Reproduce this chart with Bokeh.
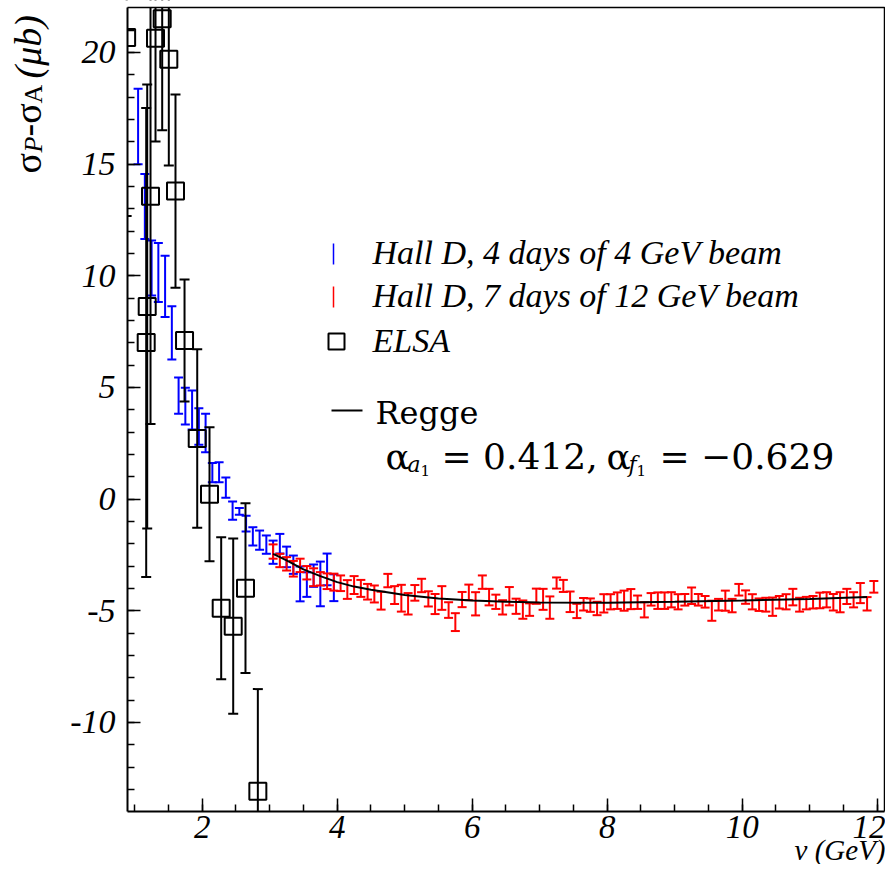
import math
from bokeh.plotting import figure
from bokeh.models import Range1d, FixedTicker, Label, PrintfTickFormatter
from bokeh.embed import file_html
from bokeh.resources import INLINE

# ---------------- data ----------------
blue_x = [1.05, 1.15, 1.25, 1.35, 1.45, 1.55, 1.65, 1.75, 1.85, 1.95,
          2.05, 2.15, 2.25, 2.35, 2.45, 2.55, 2.65, 2.75, 2.85, 2.95,
          3.05, 3.15, 3.25, 3.35, 3.45, 3.55, 3.65, 3.75, 3.85, 3.95]
blue_y = [16.68, 13.10, 10.35, 10.14, 9.52, 7.44, 4.63, 4.16, 3.99, 3.25,
          2.96, 1.18, 1.20, 0.51, -0.52, -0.55, -1.10, -1.67, -1.84, -2.04,
          -2.38, -2.00, -2.59, -2.94, -3.80, -3.83, -3.43, -3.80, -3.15, -3.97]
blue_err = [1.69, 1.46, 1.23, 1.32, 1.37, 1.19, 0.81, 0.82, 0.87, 0.82,
            0.86, 0.43, 0.45, 0.45, 0.41, 0.15, 0.35, 0.41, 0.43, 0.41,
            0.52, 0.44, 0.46, 0.41, 0.78, 0.55, 0.50, 1.00, 0.71, 0.60]

red_x = [3.05, 3.15, 3.25, 3.35, 3.45, 3.55, 3.65, 3.75, 3.85, 3.95,
         4.05, 4.15, 4.25, 4.35, 4.45, 4.55, 4.65, 4.75, 4.85, 4.95,
         5.05, 5.15, 5.25, 5.35, 5.45, 5.55, 5.65, 5.75, 5.85, 5.95,
         6.05, 6.15, 6.25, 6.35, 6.45, 6.55, 6.65, 6.75, 6.85, 6.95,
         7.05, 7.15, 7.25, 7.35, 7.45, 7.55, 7.65, 7.75, 7.85, 7.95,
         8.05, 8.15, 8.25, 8.35, 8.45, 8.55, 8.65, 8.75, 8.85, 8.95,
         9.05, 9.15, 9.25, 9.35, 9.45, 9.55, 9.65, 9.75, 9.85, 9.95,
         10.05, 10.15, 10.25, 10.35, 10.45, 10.55, 10.65, 10.75, 10.85, 10.95,
         11.05, 11.15, 11.25, 11.35, 11.45, 11.55, 11.65, 11.75, 11.85, 11.95]
red_y = [-2.35, -2.75, -2.90, -3.12, -2.97, -3.30, -3.50, -3.57, -3.68, -3.72,
         -3.77, -4.05, -3.85, -4.00, -4.15, -4.25, -4.55, -3.65, -4.30, -4.44,
         -4.69, -4.20, -3.87, -4.47, -4.70, -4.43, -4.97, -5.51, -4.50, -4.18,
         -4.69, -3.72, -4.39, -4.60, -4.85, -4.35, -4.80, -4.95, -4.95, -4.35,
         -4.49, -4.86, -3.76, -3.89, -4.60, -5.01, -4.71, -4.75, -4.90, -4.67,
         -4.60, -4.55, -4.55, -4.48, -4.62, -4.96, -4.49, -4.55, -4.55, -4.51,
         -4.60, -4.51, -4.33, -4.51, -4.60, -5.00, -4.73, -4.55, -4.77, -4.06,
         -4.39, -4.60, -4.73, -4.73, -4.82, -4.62, -4.60, -4.39, -4.73, -4.66,
         -4.62, -4.54, -4.51, -4.62, -4.62, -4.36, -4.51, -4.21, -4.69, -3.93]
red_err = [0.32, 0.30, 0.30, 0.35, 0.30, 0.30, 0.40, 0.30, 0.35, 0.38,
           0.35, 0.42, 0.40, 0.38, 0.35, 0.38, 0.40, 0.30, 0.40, 0.60,
           0.48, 0.35, 0.30, 0.34, 0.45, 0.53, 0.35, 0.40, 0.34, 0.35,
           0.52, 0.30, 0.37, 0.32, 0.32, 0.41, 0.34, 0.41, 0.28, 0.34,
           0.47, 0.50, 0.25, 0.27, 0.46, 0.32, 0.28, 0.30, 0.30, 0.41,
           0.34, 0.37, 0.45, 0.45, 0.30, 0.34, 0.28, 0.37, 0.37, 0.34,
           0.34, 0.26, 0.37, 0.26, 0.26, 0.45, 0.26, 0.45, 0.30, 0.26,
           0.30, 0.34, 0.28, 0.31, 0.41, 0.28, 0.34, 0.37, 0.31, 0.28,
           0.28, 0.35, 0.34, 0.37, 0.45, 0.34, 0.34, 0.45, 0.30, 0.26]

elsa_x = [0.88, 1.170, 1.185, 1.234, 1.308, 1.407, 1.505, 1.604, 1.738,
          1.926, 2.108, 2.281, 2.459, 2.641, 2.824]
elsa_y = [20.67, 7.01, 8.62, 13.56, 20.63, 21.51, 19.69, 13.79, 7.10,
          2.71, 0.21, -4.89, -5.69, -3.99, -13.08]
elsa_err = [8.0, 10.5, 9.94, 10.2, 4.62, 5.0, 4.76, 4.33, 2.73,
            4.0, 3.0, 3.18, 3.92, 3.8, 4.57]

regge_x = [3.05, 3.25, 3.5, 3.75, 4.0, 4.25, 4.5, 5.0, 5.5, 6.0, 6.5, 7.0,
           8.0, 9.0, 10.0, 11.0, 11.85]
regge_y = [-2.45, -2.75, -3.15, -3.45, -3.72, -3.92, -4.06, -4.30, -4.45,
           -4.54, -4.60, -4.63, -4.64, -4.60, -4.54, -4.47, -4.38]

x_ticks = [2, 4, 6, 8, 10, 12]
y_ticks = [-10, -5, 0, 5, 10, 15, 20]
x_minor = [1.0 + 0.5 * i for i in range(23)]
y_minor = list(range(-13, 22))

# ---------------- layout ----------------
W, H = 885, 864
XMIN, XMAX = 0.893, 12.108      # axis ranges of the drawn frame
YMIN, YMAX = -13.99, 22.01
FL, FR, FT, FB = 127, 884, 7, 811   # frame edges in canvas pixels
KX = (XMAX - XMIN) / (FR - FL)
KY = (YMAX - YMIN) / (FB - FT)
TSHIFT = 10   # Label text sits this many px below its anchor; compensate


def px2x(sx):
    return XMIN + (sx - FL) * KX


def py2y(sy):
    return YMAX - (sy - FT) * KY


p = figure(width=W, height=H, output_backend="svg", toolbar_location=None,
           x_range=Range1d(px2x(0), px2x(W)), y_range=Range1d(py2y(H), py2y(0)),
           min_border=0)
p.grid.visible = False
p.outline_line_color = None
p.background_fill_color = "white"
p.border_fill_color = "white"

p.xaxis.fixed_location = YMIN
p.yaxis.fixed_location = XMIN
p.xaxis.bounds = (XMIN, XMAX)
p.yaxis.bounds = (YMIN, YMAX)
p.xaxis.ticker = FixedTicker(ticks=x_ticks, minor_ticks=x_minor)
p.yaxis.ticker = FixedTicker(ticks=y_ticks, minor_ticks=y_minor)
p.yaxis.formatter = PrintfTickFormatter(format="%d")
p.xaxis.formatter = PrintfTickFormatter(format="%d")
for ax in (p.xaxis, p.yaxis):
    ax.axis_line_width = 2
    ax.major_tick_in = 13
    ax.major_tick_out = 0
    ax.minor_tick_in = 7
    ax.minor_tick_out = 0
    ax.major_tick_line_width = 1.5
    ax.minor_tick_line_width = 1.5
    ax.major_label_text_font = "Liberation Serif"
    ax.major_label_text_font_style = "italic"
    ax.major_label_text_font_size = "34px"
    ax.major_label_text_color = "black"
p.xaxis.major_label_text_font_size = "33px"
p.xaxis.major_label_standoff = 4
p.yaxis.major_label_standoff = 12


def errbars(x, y, e, color, cap=9):
    lo = [a - b for a, b in zip(y, e)]
    hi = [a + b for a, b in zip(y, e)]
    p.segment(x0=x, y0=lo, x1=x, y1=hi, line_color=color, line_width=2)
    p.scatter(x=list(x) + list(x), y=lo + hi, marker="dash", size=cap,
              line_color=color, line_width=2)


errbars(blue_x, blue_y, blue_err, "#0000ff")
errbars(elsa_x, elsa_y, elsa_err, "black", cap=10)
p.scatter(elsa_x, elsa_y, marker="square", size=17, fill_color=None,
          line_color="black", line_width=2)
errbars(red_x, red_y, red_err, "#ff0000")
p.line(regge_x, regge_y, line_color="black", line_width=2)

# white masks outside the frame (axes and texts are drawn above them)
p.quad(left=[px2x(0), px2x(0), px2x(0)], right=[XMIN, px2x(W), px2x(W)],
       bottom=[py2y(H), py2y(H), YMAX], top=[py2y(0), YMIN, py2y(0)],
       fill_color="white", line_color=None)
# frame border (top and right)
p.line([XMIN, XMAX, XMAX], [YMAX, YMAX, YMIN], line_color="black",
       line_width=1.5)


def lab(text, sx, sy, size, font="Liberation Serif", style="normal",
        align="left", angle=0.0):
    if angle:
        sx -= TSHIFT
    else:
        sy -= TSHIFT
    p.add_layout(Label(x=px2x(sx), y=py2y(sy), text=text, text_font=font,
                       text_font_style=style, text_font_size=f"{size}px",
                       text_align=align, text_baseline="alphabetic",
                       angle=angle, text_color="black"))


# legend
LX = 333
p.segment(x0=[px2x(LX)], y0=[py2y(264)], x1=[px2x(LX)], y1=[py2y(243)],
          line_color="#0000ff", line_width=1.5)
p.segment(x0=[px2x(LX)], y0=[py2y(307)], x1=[px2x(LX)], y1=[py2y(286)],
          line_color="#ff0000", line_width=1.5)
p.scatter([px2x(336)], [py2y(341)], marker="square", size=16, fill_color=None,
          line_color="black", line_width=2)
p.segment(x0=[px2x(331)], y0=[py2y(410)], x1=[px2x(362)], y1=[py2y(410)],
          line_color="black", line_width=2)
lab("Hall D, 4 days of 4 GeV beam", 372, 262, 34, style="italic")
lab("Hall D, 7 days of 12 GeV beam", 372, 305, 34, style="italic")
lab("ELSA", 372, 350, 34, style="italic")
lab("Regge", 375, 422, 32, font="DejaVu Serif")

# alpha line
F = "DejaVu Serif"
lab("\u03b1", 385, 466, 36, font=F)
lab("a", 407, 474, 22, font=F, style="italic")
lab("1", 420, 480, 15, font=F)
lab("= 0.412,", 441, 466, 36, font=F)
lab("\u03b1", 606, 466, 36, font=F)
lab("f", 628, 474, 22, font=F, style="italic")
lab("1", 636, 480, 15, font=F)
lab("= \u22120.629", 659, 466, 36, font=F)

# y axis title (rotated)
A = math.pi / 2
lab("\u03c3", 37, 173, 38, angle=A)
lab("P", 43, 152, 26, style="italic", angle=A)
lab("-\u03c3", 37, 136, 38, angle=A)
lab("A", 43, 103, 26, angle=A)
lab("(\u03bcb)", 37, 78, 38, style="italic", angle=A)

# x axis title
lab("\u03bd (GeV)", 885, 859, 29, style="italic", align="right")

open("out.html", "w").write(file_html(p, INLINE))
